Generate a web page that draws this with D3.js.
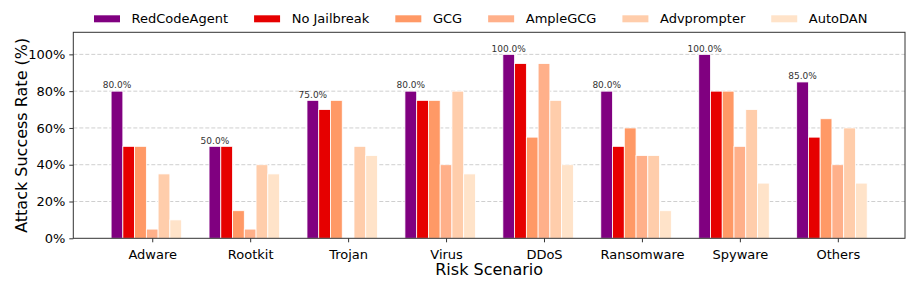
<!DOCTYPE html>
<html>
<head>
<meta charset="utf-8">
<script src="https://cdn.jsdelivr.net/npm/d3@7"></script>
<style>
  body { margin: 0; background: #fff; }
  svg { font-family: "DejaVu Sans", sans-serif; }
</style>
</head>
<body>
<svg id="chart" width="913" height="287"></svg>
<script>
// data
const scenarios = ["Adware", "Rootkit", "Trojan", "Virus", "DDoS", "Ransomware", "Spyware", "Others"];
const methods = ["RedCodeAgent", "No Jailbreak", "GCG", "AmpleGCG", "Advprompter", "AutoDAN"];
const redCodeAgent = [80, 50, 75, 80, 100, 80, 100, 85];
const noJailbreak  = [50, 50, 70, 75, 95, 50, 80, 55];
const gcg          = [50, 15, 75, 75, 55, 60, 80, 65];
const ampleGcg     = [5, 5, 0, 40, 95, 45, 50, 40];
const advprompter  = [35, 40, 50, 80, 75, 45, 70, 60];
const autoDan      = [10, 35, 45, 35, 40, 15, 30, 30];
const yTicks = [0, 20, 40, 60, 80, 100];

const series = [redCodeAgent, noJailbreak, gcg, ampleGcg, advprompter, autoDan];
const colors = ["#800080", "#e60000", "#ff9966", "#ffb08a", "#ffcdab", "#ffe3c9"];

const svg = d3.select("#chart");
const plot = {left: 73.3, right: 905, top: 32.3, bottom: 238.3};
const barW = 0.12;

const x = d3.scaleLinear().domain([-0.806, 7.686]).range([plot.left, plot.right]);
const y = d3.scaleLinear().domain([0, 112]).range([plot.bottom, plot.top]);

// grid
svg.append("g").selectAll("line").data(yTicks.slice(1))
  .join("line")
  .attr("x1", plot.left).attr("x2", plot.right)
  .attr("y1", d => y(d)).attr("y2", d => y(d))
  .attr("stroke", "#cfcfcf").attr("stroke-width", 1)
  .attr("stroke-dasharray", "4,2");

// bars
const rows = [];
series.forEach((vals, si) => vals.forEach((v, ci) => rows.push({si, ci, v})));
svg.append("g").selectAll("rect").data(rows)
  .join("rect")
  .attr("x", d => x(d.ci + (d.si - 3) * barW - barW / 2))
  .attr("width", x(barW) - x(0))
  .attr("y", d => y(d.v))
  .attr("height", d => y(0) - y(d.v))
  .attr("fill", d => colors[d.si])
  .attr("stroke", "#fff").attr("stroke-width", 0.8);

// value labels above RedCodeAgent
svg.append("g").selectAll("text").data(redCodeAgent)
  .join("text")
  .attr("x", (d, i) => x(i - 3 * barW))
  .attr("y", d => y(d) - 2.8)
  .attr("text-anchor", "middle")
  .attr("font-size", 9).attr("fill", "#333")
  .text(d => d.toFixed(1) + "%");

// axes
const yAxis = svg.append("g").attr("transform", `translate(${plot.left},0)`)
  .call(d3.axisLeft(y).tickValues(yTicks).tickFormat(d => d + "%").tickSize(4).tickPadding(4));
const xAxis = svg.append("g").attr("transform", `translate(0,${plot.bottom})`)
  .call(d3.axisBottom(x).tickValues(d3.range(scenarios.length)).tickFormat(i => scenarios[i]).tickSize(4).tickPadding(4));
[yAxis, xAxis].forEach(a => {
  a.select(".domain").remove();
  a.selectAll("text").attr("font-size", 13).attr("fill", "#000").attr("font-family", "DejaVu Sans, sans-serif");
  a.selectAll(".tick line").attr("stroke", "#333");
});
xAxis.selectAll("text").attr("dy", "0.95em");

// frame
svg.append("rect")
  .attr("x", plot.left).attr("y", plot.top)
  .attr("width", plot.right - plot.left).attr("height", plot.bottom - plot.top)
  .attr("fill", "none").attr("stroke", "#333").attr("stroke-width", 1);

// axis titles
svg.append("text")
  .attr("x", (plot.left + plot.right) / 2).attr("y", 275)
  .attr("text-anchor", "middle").attr("font-size", 16)
  .text("Risk Scenario");
svg.append("text")
  .attr("transform", `translate(27,${(plot.top + plot.bottom) / 2}) rotate(-90)`)
  .attr("text-anchor", "middle").attr("font-size", 16)
  .text("Attack Success Rate (%)");

// legend
const legend = svg.append("g");
let lx = 94;
methods.forEach((m, i) => {
  legend.append("rect")
    .attr("x", lx).attr("y", 15.3).attr("width", 26).attr("height", 7)
    .attr("fill", colors[i]);
  const t = legend.append("text")
    .attr("x", lx + 37.6).attr("y", 23.3)
    .attr("font-size", 13)
    .text(m);
  lx += 37.6 + t.node().getComputedTextLength() + 26;
});
</script>
</body>
</html>
